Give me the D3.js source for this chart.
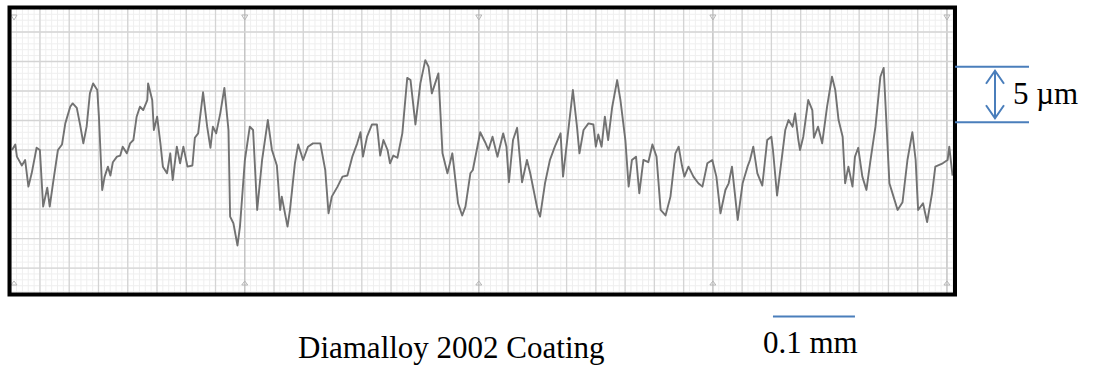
<!DOCTYPE html>
<html lang="en">
<head>
<meta charset="utf-8">
<script src="https://d3js.org/d3.v7.min.js"></script>
<style>
  body { margin: 0; background: white; }
  svg { display: block; }
  .minor { stroke: #efefef; stroke-width: 1px; }
  .major { stroke: #d4d4d4; stroke-width: 1.3px; }
  .mark { stroke: #c2c2c2; stroke-width: 1.4px; }
  .tri { fill: none; stroke: #b5b5b5; stroke-width: 1px; }
  .trace { fill: none; stroke: #727272; stroke-width: 1.9px; stroke-linejoin: round; }
  .frame { fill: none; stroke: black; stroke-width: 4px; }
  .scalebar { stroke: #4a7ebb; stroke-width: 2px; fill: none; }
</style>
</head>
<body>
<script>
// profile: distance along surface (µm) and height about mean line (µm)
var distance = [0,4,6,12,16,20,24,30,34,38,43,46,50,56,61,65,71,74,79,83,87,91,95,99,104,106,110,113,117,120,
  123,128,132,135,140,144,148,152,156,160,165,166,171,173,177,181,184,189,193,196,201,205,209,214,220,223,227,233,238,242,
  245,249,254,259,264,266,270,275,278,284,290,294,299,305,312,317,323,327,329,336,339,345,349,355,361,367,376,382,386,390,
  397,403,409,415,421,425,428,433,439,445,449,453,458,461,465,470,476,482,486,492,498,504,508,512,516,520,525,531,537,544,
  549,553,559,562,571,577,581,586,592,599,603,606,611,616,622,628,632,641,644,650,656,662,669,672,678,684,689,692,697,703,
  709,712,715,719,723,727,732,738,742,748,752,756,761,765,770,776,781,786,791,797,803,809,813,817,820,825,831,837,842,848,
  854,859,864,870,874,878,885,891,897,900,904,909,915,921,926,928,933,939,943,947,952,955,959,961,965,971,976,978,983,988,
  994,1000,1004,1008,1013,1016,1020,1025,1028,1032,1037,1042,1047,1053,1059,1063,1066,1070,1075,1080,1086,1092,1098,1102,1105,1111,1116,1122,1126,1135,
  1141,1143,1147];
var height = [0,0.5,-0.6,-1.4,-0.9,-3.3,-2.1,0.2,0,-5.1,-3.4,-5.1,-3.0,0,0.5,2.4,3.9,4.2,3.8,2.3,0.6,2.1,5.1,6.0,5.4,3.0,-3.6,-2.4,-1.5,-2.3,
  -1.1,-0.6,-0.5,0.3,-0.3,0.6,0.9,3.0,3.9,3.6,4.5,6.0,4.5,1.8,3.0,0.6,-1.5,-2.1,-0.3,-2.7,0.3,-1.2,0.3,-1.5,-1.4,1.1,1.5,5.2,2.1,0.2,
  2.1,1.5,3.3,5.6,1.8,-6.0,-6.6,-8.6,-6.9,-0.9,2.1,1.8,-5.4,-0.9,2.7,0,-1.4,-5.4,-4.2,-6.9,-5.4,-1.2,0.5,-0.9,0.3,0.6,0.6,-1.8,-5.7,-4.2,
  -3.3,-2.4,-2.3,-0.6,0.6,1.6,-0.6,1.2,2.3,2.3,-0.5,0.9,0,-1.2,-0.5,-0.7,1.5,6.5,6.3,2.3,6.0,8.1,7.5,5.1,6.0,6.9,-0.3,-2.1,-0.3,-4.8,
  -5.9,-5.1,-2.1,-1.8,1.6,0.7,0,1.2,-0.6,1.5,0.3,-2.9,0.9,2.0,-2.9,-0.9,-2.1,-5.4,-6.0,-3.0,-0.9,0.3,1.5,-2.4,1.5,5.4,2.1,-0.3,1.8,2.4,
  2.3,0.3,1.4,0.3,3.0,0.9,3.9,6.3,4.5,0.9,-3.3,-0.9,-0.6,-3.9,-0.9,-1.1,0.5,-0.6,-5.4,-5.9,-4.2,-0.3,0.3,-1.4,-2.4,-1.5,-2.4,-3.0,-3.3,-1.2,
  -0.9,-2.4,-5.7,-3.6,-3.0,-1.5,-6.3,-3.0,-1.5,-0.9,0.3,-2.1,-3.2,0.9,1.2,0,-4.1,-0.6,1.8,2.7,2.1,3.3,0.9,0,1.2,4.5,3.6,1.1,2.1,0.6,
  3.9,6.6,5.4,2.7,1.2,-3.0,-1.5,-3.3,-0.6,0.2,-2.4,-3.6,-0.9,2.1,6.6,7.4,3.0,-3.0,-4.2,-5.4,-4.7,-0.9,1.6,-0.9,-5.4,-4.8,-6.5,-3.9,-1.5,-1.2,
  -0.9,0.3,-2.3];

// chart paper ruling (µm), scale bars and captions
var paperStepX = 35.68, paperOriginX = 34.1;
var paperStepY = 2.658, paperOriginY = 10.63;
var barHeight = [2.5, 7.5];      // 5 µm bar
var barLength = [928, 1028];     // 0.1 mm bar
var caption = "Diamalloy 2002 Coating";
var heightLabel = "5 µm";
var lengthLabel = "0.1 mm";

var serif = "'Liberation Serif', 'Times New Roman', 'DejaVu Serif', serif";

var W = 1093, H = 374;
var box = { left: 9.5, right: 955, top: 7.5, bottom: 294.5 };

var x = d3.scaleLinear().domain([0, 1150]).range([12, 955]);
var y = d3.scaleLinear().domain([-5, 5]).range([205.5, 94.5]);

var svg = d3.select("body").append("svg")
  .attr("width", W)
  .attr("height", H);

var defs = svg.append("defs");
defs.append("clipPath").attr("id", "inside")
  .append("rect")
  .attr("x", box.left).attr("y", box.top)
  .attr("width", box.right - box.left).attr("height", box.bottom - box.top);
defs.append("filter").attr("id", "soft")
  .append("feGaussianBlur").attr("stdDeviation", 0.45);

var paper = svg.append("g").attr("clip-path", "url(#inside)");

var xMax = x.invert(box.right);
var yMin = y.invert(box.bottom);

var minorX = d3.range(paperOriginX - 2 * paperStepX, xMax, paperStepX / 5);
var minorY = d3.range(paperOriginY + paperStepY, yMin - paperStepY, -paperStepY / 5);
var majorX = d3.range(paperOriginX - paperStepX, xMax, paperStepX);
var majorY = d3.range(paperOriginY + paperStepY, yMin - paperStepY, -paperStepY);

paper.selectAll(".minor.v").data(minorX).enter().append("line")
  .attr("class", "minor v")
  .attr("x1", d => x(d)).attr("x2", d => x(d))
  .attr("y1", box.top).attr("y2", box.bottom);
paper.selectAll(".minor.h").data(minorY).enter().append("line")
  .attr("class", "minor h")
  .attr("y1", d => y(d)).attr("y2", d => y(d))
  .attr("x1", box.left).attr("x2", box.right);
paper.selectAll(".major.v").data(majorX).enter().append("line")
  .attr("class", (d, i) => i % 8 === 0 ? "mark v" : "major v")
  .attr("x1", d => x(d)).attr("x2", d => x(d))
  .attr("y1", box.top).attr("y2", box.bottom);
paper.selectAll(".major.h").data(majorY).enter().append("line")
  .attr("class", "major h")
  .attr("y1", d => y(d)).attr("y2", d => y(d))
  .attr("x1", box.left).attr("x2", box.right);

// little ruling marks on the chart paper
var markX = majorX.filter((d, i) => i % 8 === 0);
markX.forEach(function (d) {
  var cx = Math.max(x(d), 14);
  paper.append("path").attr("class", "tri")
    .attr("d", "M" + (cx - 3) + ",15L" + (cx + 3) + ",15L" + cx + ",20Z");
  paper.append("path").attr("class", "tri")
    .attr("d", "M" + (cx - 3) + ",285L" + (cx + 3) + ",285L" + cx + ",281Z");
});

var line = d3.line()
  .x((d, i) => x(distance[i]))
  .y(d => y(d))
  .curve(d3.curveLinear);

paper.append("path")
  .datum(height)
  .attr("class", "trace")
  .attr("filter", "url(#soft)")
  .attr("d", line);

svg.append("rect").attr("class", "frame")
  .attr("x", box.left).attr("y", box.top)
  .attr("width", box.right - box.left).attr("height", box.bottom - box.top);

// 5 µm bar
var g5 = svg.append("g").attr("class", "scalebar");
barHeight.forEach(function (v) {
  g5.append("line")
    .attr("x1", box.right).attr("x2", 1029)
    .attr("y1", y(v)).attr("y2", y(v));
});
var ax = 995, aTop = y(barHeight[1]) + 4, aBot = y(barHeight[0]) - 4;
g5.append("line").attr("x1", ax).attr("x2", ax).attr("y1", aTop).attr("y2", aBot);
g5.append("path").attr("d", "M" + (ax - 9) + "," + (aTop + 13) + "L" + ax + "," + aTop + "L" + (ax + 9) + "," + (aTop + 13));
g5.append("path").attr("d", "M" + (ax - 9) + "," + (aBot - 13) + "L" + ax + "," + aBot + "L" + (ax + 9) + "," + (aBot - 13));

function label(tx, ty, s) {
  svg.append("text")
    .attr("x", tx).attr("y", ty)
    .attr("font-family", serif)
    .attr("font-size", 31)
    .attr("fill", "black")
    .text(s);
}

label(1013, 104, heightLabel);

// 0.1 mm bar
svg.append("line").attr("class", "scalebar")
  .attr("x1", x(barLength[0])).attr("x2", x(barLength[1]))
  .attr("y1", 316.5).attr("y2", 316.5);

label(763, 353, lengthLabel);
label(298, 358, caption);
</script>
</body>
</html>
